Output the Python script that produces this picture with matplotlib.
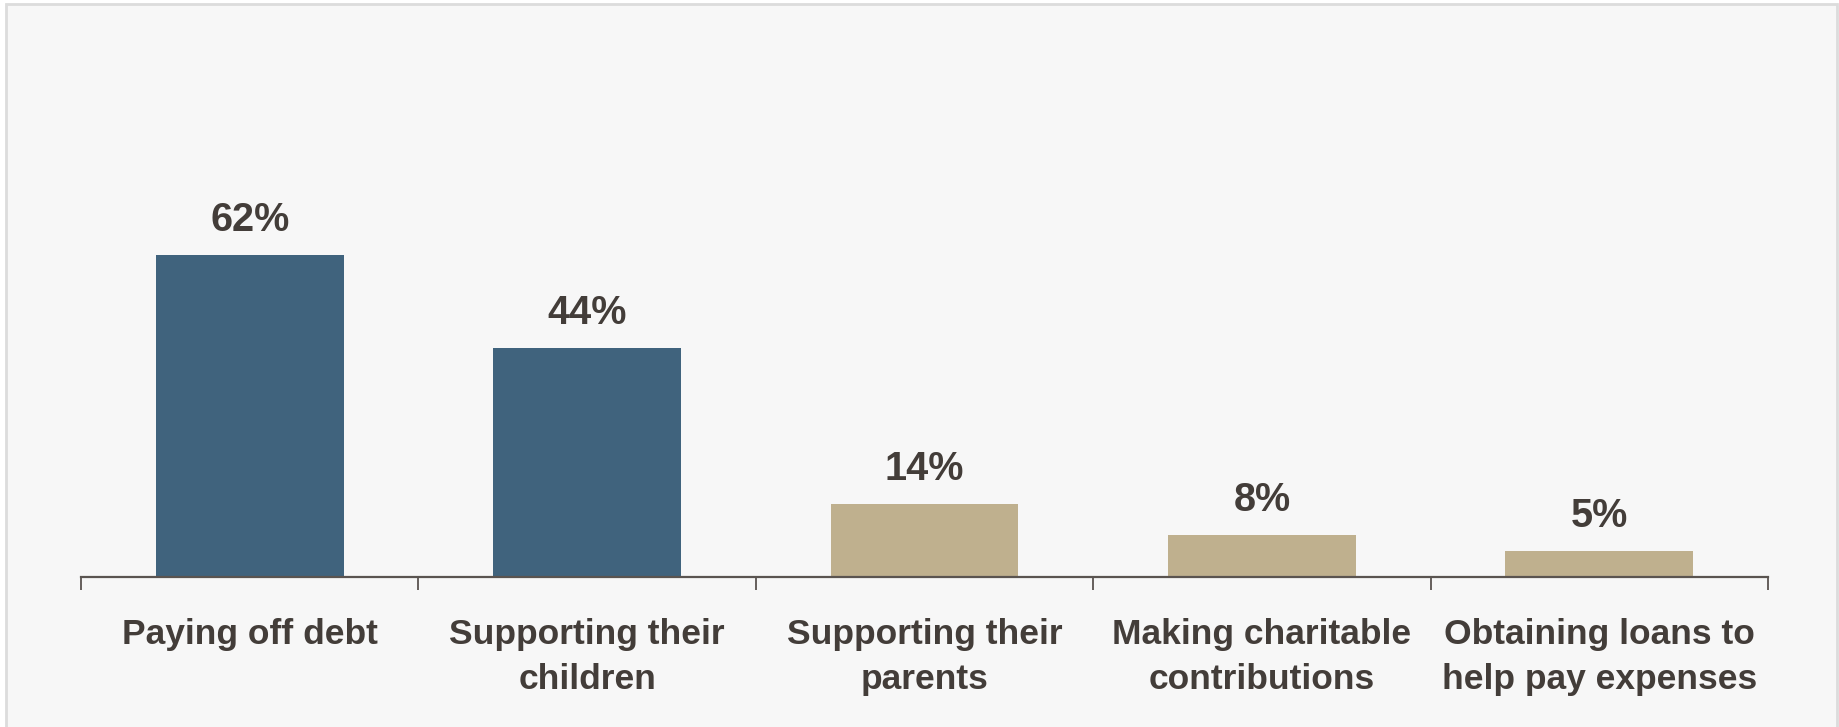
import matplotlib
matplotlib.use("Agg")
import matplotlib.pyplot as plt
from matplotlib.patches import Rectangle
import numpy as np

categories = ["Paying off debt", "Supporting their\nchildren", "Supporting their\nparents",
              "Making charitable\ncontributions", "Obtaining loans to\nhelp pay expenses"]
values = [62, 44, 14, 8, 5]
bar_colors = ["#40637d", "#40637d", "#bfb08e", "#bfb08e", "#bfb08e"]

plt.rcParams['font.family'] = ['Liberation Sans', 'DejaVu Sans']
text_color = "#433d39"
axis_color = "#5a5450"

W, H = 1839, 727
fig = plt.figure(figsize=(W / 100, H / 100), dpi=100)
fig.patch.set_facecolor("white")

# panel background with border
bg = Rectangle((5.5 / W, -0.02), (1837 - 5.5) / W, 1 + 0.02 - 3.5 / H, transform=fig.transFigure,
               facecolor="#f7f7f7", edgecolor="#dcdcdc", linewidth=2.0, zorder=-10)
fig.patches.append(bg)

ax_left, ax_right = 81, 1768
ax_bottom = 577
px_per_unit = 5.194
ymax = 100
ax_h = ymax * px_per_unit
ax = fig.add_axes([ax_left / W, 1 - ax_bottom / H, (ax_right - ax_left) / W, ax_h / H])
ax.set_facecolor("none")

x = np.arange(len(categories))
bars = ax.bar(x, values, width=0.557, color=bar_colors, zorder=2)
ax.set_xlim(-0.5, len(categories) - 0.5)
ax.set_ylim(0, ymax)

for xi, v in zip(x, values):
    ax.annotate(f"{v}%", (xi, v), xytext=(0, 17.5), textcoords="offset points",
                ha="center", va="baseline", fontsize=28.5, fontweight="bold", color=text_color)

for s in ["top", "left", "right"]:
    ax.spines[s].set_visible(False)
ax.spines["bottom"].set_color(axis_color)
ax.spines["bottom"].set_linewidth(1.6)
ax.set_yticks([])

ax.set_xticks(x)
ax.set_xticklabels(categories, fontsize=25.5, fontweight="bold", color=text_color,
                   linespacing=1.48)
ax.tick_params(axis="x", which="major", length=0, pad=29.5)
ax.set_xticks(np.arange(len(categories) + 1) - 0.5, minor=True)
ax.tick_params(axis="x", which="minor", length=9, width=1.3, color=axis_color, direction="out")

fig.savefig("out.png", dpi=100, facecolor=fig.get_facecolor())
